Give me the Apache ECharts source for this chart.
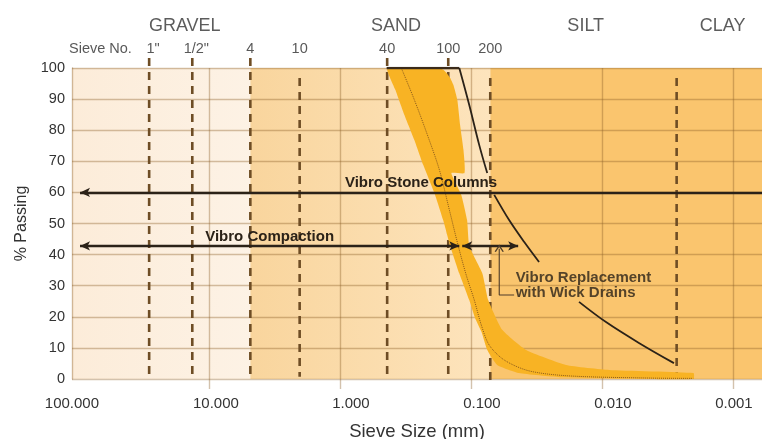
<!DOCTYPE html>
<html><head><meta charset="utf-8">
<script src="https://cdn.jsdelivr.net/npm/echarts@6/dist/echarts.min.js"></script>
<style>html,body{margin:0;padding:0;background:#fff;}#c{width:762px;height:439px;}</style>
</head><body><div id="c"></div>
<script>
// ---------------- data (sizes in mm, values in % passing) ----------------
const xAxisMax = 111;      // left edge of the plot
const xAxisMin = 0.0006;   // right edge of the plot
const xTickValues = [100, 10, 1, 0.1, 0.01, 0.001];
const xGridValues = [10, 1, 0.1, 0.01, 0.001];

const soilNames = ['GRAVEL', 'SAND', 'SILT', 'CLAY'];
const soilLabelX = [15.3, 0.373, 0.0133, 0.0012];
const soilLabelY = 113.5;

const zoneEdges = [111, 4.83, 0.0712, 0.0006];   // gravel | sand | silt + clay

const sieveNames = ['1"', '1/2"', '4', '10', '40', '100', '200'];
const sieveSizes = [28.6, 13.4, 4.83, 2.03, 0.436, 0.149, 0.0712];
const sieveLineTop = [103.2, 103.2, 103.2, 96.8, 103.2, 103.2, 96.8];
const sieveLineBottom = [-0.3, -0.3, -0.3, 0.7, -0.3, -0.3, -0.3];
const sieveLabelY = 106.2;
const sieveHeader = 'Sieve No.';
const sieveHeaderX = 67.3;

const clayLineSize = 0.00269;
const clayLineTop = 96.8;
const clayLineBottom = 0.7;

// gradation band (coarse edge top->bottom, then fine edge bottom->top)
const bandCoarseEdge = [[0.434,100],[0.377,92.9],[0.322,84.9],[0.270,76.8],[0.231,68.8],[0.190,59.8],[0.163,51.1],[0.144,42.8],[0.123,34.1],[0.103,25.4],[0.093,19.6],[0.083,15.1],[0.075,9.3],[0.063,4.5],[0.043,1.9],[0.021,0.6],[0.0074,0.2],[0.002,0]];
const bandFineEdge = [[0.002,1.9],[0.0088,2.9],[0.0188,4.5],[0.0379,9.3],[0.0577,15.8],[0.0738,25.4],[0.082,34.1],[0.103,42.8],[0.107,51.1],[0.1185,59.2],[0.141,66.2],[0.112,66.2],[0.114,73.6],[0.121,81.7],[0.127,89.7],[0.136,94.5],[0.144,96.8],[0.1515,98.1],[0.1625,99.4],[0.174,100]];
const bandMedian = [[0.340,100],[0.270,89.7],[0.215,78.5],[0.174,67.2],[0.146,54.3],[0.125,42.8],[0.1086,33.4],[0.0943,25.4],[0.0834,17.4],[0.0725,10.9],[0.0557,6.1],[0.0359,2.6],[0.0178,1.0],[0.0044,0.3],[0.002,0.2]];

// upper limit for vibro replacement (null = hidden behind text)
const replTopSize = [0.44, 0.1227];
const replTopValue = 100;
const replCurve = [[0.1227,100],[0.103,88.1],[0.0864,75.2],[0.0751,66.2],null,[0.0664,59.2],[0.0511,51.1],[0.0393,44.1],[0.0302,37.6],null,[0.01496,24.8],[0.00931,18.3],[0.00522,11.6],[0.00282,5.1]];

// range arrows
const arrowLabels = ['Vibro Stone Columns', 'Vibro Compaction', ''];
const arrowFromX = [96.4, 96.4, 0.1165];
const arrowToX = [0.0006, 0.1227, 0.0436];
const arrowY = [60, 42.8, 42.8];
const arrowEndHead = [false, true, true];

const wickPointer = [[0.0468,27.0],[0.0608,27.0],[0.0608,41.9]];
const wickLabel = 'Vibro Replacement\nwith Wick Drains';
const wickLabelPos = [0.0468, 30.1];

// ---------------- chart ----------------
const FONT = "'Liberation Sans', Arial, Helvetica, sans-serif";
const gridColor = 'rgba(140,95,40,0.38)';
const ink = '#2b2218';
const dashInk = '#6e4d25';
const zoneFills = [
  {type:'linear',x:0,y:0,x2:1,y2:0,colorStops:[{offset:0,color:'#fcecd9'},{offset:1,color:'#fdf2e5'}]},
  {type:'linear',x:0,y:0,x2:1,y2:0,colorStops:[{offset:0,color:'#f9d59d'},{offset:1,color:'#fde4bd'}]},
  '#fac56e'
];
// label nudges so the tick labels sit where the original prints them
const xLabelStyleKey = {100:'l', 10:'a', 1:'b', 0.1:'b', 0.01:'b', 0.001:'c'};

const series = [];

// background zones
series.push({
  type:'custom', z:-5, silent:true, clip:false,
  data: zoneEdges.slice(0,-1).map((e,i)=>[e, zoneEdges[i+1], i]),
  encode:{x:[0,1]},
  renderItem:(params, api)=>{
    const p0 = api.coord([api.value(0), 100]);
    const p1 = api.coord([api.value(1), 0]);
    return {type:'rect', shape:{x:Math.min(p0[0],p1[0]), y:p0[1], width:Math.abs(p1[0]-p0[0]), height:p1[1]-p0[1]},
      style:{fill: zoneFills[api.value(2)]}};
  }
});

// sieve dashed lines
sieveSizes.forEach((s,i)=>{
  series.push({type:'line', z:2, silent:true, clip:false, symbol:'none',
    data:[[s, sieveLineTop[i]],[s, sieveLineBottom[i]]],
    lineStyle:{color:dashInk, width:2.6, type:[8,6]}});
});
series.push({type:'line', z:2, silent:true, clip:false, symbol:'none',
  data:[[clayLineSize, clayLineTop],[clayLineSize, clayLineBottom]],
  lineStyle:{color:dashInk, width:2.6, type:[8,6]}});

// gradation band
series.push({
  type:'custom', z:3, silent:true, clip:false, data:[[0.1,50]],
  renderItem:(params, api)=>{
    const pts = bandCoarseEdge.concat(bandFineEdge).map(p=>api.coord(p));
    return {type:'polygon', shape:{points:pts, smooth:0.15}, style:{fill:'#f8b324'}};
  }
});
series.push({type:'line', z:4, silent:true, symbol:'none', smooth:0.3, data:bandMedian,
  lineStyle:{color:'#8a5a1c', width:1, type:'dotted'}});

// vibro replacement upper limit
series.push({type:'line', z:5, silent:true, symbol:'none',
  data:[[replTopSize[0], replTopValue],[replTopSize[1], replTopValue]],
  lineStyle:{color:'#3a2a1a', width:2.6}});
let seg = [];
const segs = [];
replCurve.forEach(p=>{ if (p === null) { segs.push(seg); seg = []; } else seg.push(p); });
segs.push(seg);
segs.forEach(s=>series.push({type:'line', z:5, silent:true, symbol:'none', smooth:0.35, data:s,
  lineStyle:{color:ink, width:1.8}}));

// arrows
series.push({type:'line', z:6, silent:true, data:[],
  markLine:{silent:true, animation:false, symbolSize:[7,10], precision:5,
    lineStyle:{color:ink, width:2.4, type:'solid'},
    label:{show:false},
    emphasis:{disabled:true},
    data: arrowLabels.map((lab,i)=>[
      {coord:[arrowFromX[i], arrowY[i]], symbol:'arrow',
        label:{show: lab !== '', formatter: lab, position:'insideMiddleTop', distance:2,
          fontSize:15, fontWeight:'bold', color:ink, fontFamily:FONT}},
      {coord:[arrowToX[i], arrowY[i]], symbol: arrowEndHead[i] ? 'arrow' : 'none'}
    ])
  }
});

// wick drain pointer
series.push({type:'line', z:6, silent:true, clip:false, symbol:'none',
  data: wickPointer.map((p,i)=> i === wickPointer.length-1
    ? {value:p, symbol:'path://M0,6 L5,0 L10,6', symbolSize:[8,6], itemStyle:{color:'rgba(0,0,0,0)', borderColor:'#4e3d2a', borderWidth:1.2}}
    : {value:p}),
  lineStyle:{color:'#4e3d2a', width:1.1}});
series.push({type:'scatter', z:7, silent:true, clip:false, symbolSize:1, itemStyle:{color:'rgba(0,0,0,0)'},
  data:[{value:wickLabelPos, name:wickLabel}],
  label:{show:true, formatter:'{b}', position:'right', distance:1, align:'left',
    fontSize:15, fontWeight:'bold', color:ink, lineHeight:15.5, fontFamily:FONT}});

// top labels
series.push({type:'scatter', z:7, silent:true, clip:false, symbolSize:1, itemStyle:{color:'rgba(0,0,0,0)'},
  data: soilNames.map((n,i)=>({value:[soilLabelX[i], soilLabelY], name:n})),
  label:{show:true, formatter:'{b}', position:'inside', fontSize:18, color:'#333', fontFamily:FONT}});
series.push({type:'scatter', z:7, silent:true, clip:false, symbolSize:1, itemStyle:{color:'rgba(0,0,0,0)'},
  data: sieveNames.map((n,i)=>({value:[sieveSizes[i], sieveLabelY], name:n,
      label: n.indexOf('"')>=0 ? {offset:[4,0]} : {}}))
    .concat([{value:[sieveHeaderX, sieveLabelY], name:sieveHeader}]),
  label:{show:true, formatter:'{b}', position:'inside', fontSize:14.5, color:'#2e2e2e', fontFamily:FONT}});

const xLabelText = {fontSize:15, color:'#333', fontFamily:FONT};
const chart = echarts.init(document.getElementById('c'), null, {renderer:'canvas'});
chart.setOption({
  animation:false,
  textStyle:{fontFamily:FONT},
  grid:{left:72, right:0, top:68, bottom:60, containLabel:false, outerBoundsMode:'none'},
  xAxis:{
    type:'log', logBase:10, inverse:true, min:xAxisMin, max:xAxisMax,
    name:'Sieve Size (mm)', nameLocation:'middle', nameGap:43,
    nameTextStyle:{fontSize:18.5, color:'#333', fontFamily:FONT},
    axisLine:{show:false},
    axisTick:{show:true, length:10, inside:false, customValues:xGridValues, lineStyle:{color:gridColor, width:1.4}},
    axisLabel:{customValues:xTickValues, margin:17, fontSize:15, color:'#333', fontFamily:FONT,
      formatter:v=>{
        const key = xLabelStyleKey[Number(v)] || 'c';
        return '{' + key + '|' + Number(v).toFixed(3) + '}';
      },
      rich:{
        l:Object.assign({padding:[0,12,0,0]}, xLabelText),
        a:Object.assign({padding:[0,0,0,14]}, xLabelText),
        b:Object.assign({padding:[0,0,0,22]}, xLabelText),
        c:Object.assign({padding:[0,0,0,2]}, xLabelText)
      }},
    splitLine:{show:true, lineStyle:{color:gridColor, width:1.4}}
  },
  yAxis:{
    type:'value', min:0, max:100, interval:10,
    name:'% Passing', nameLocation:'middle', nameGap:42,
    nameTextStyle:{fontSize:16, color:'#333', fontFamily:FONT},
    axisLine:{show:true, lineStyle:{color:gridColor, width:1.4}},
    axisTick:{show:false},
    axisLabel:{fontSize:14.5, color:'#333', margin:7, padding:[0,0,3,0], fontFamily:FONT},
    splitLine:{show:true, lineStyle:{color:gridColor, width:1.4}}
  },
  series: series
});
</script></body></html>
